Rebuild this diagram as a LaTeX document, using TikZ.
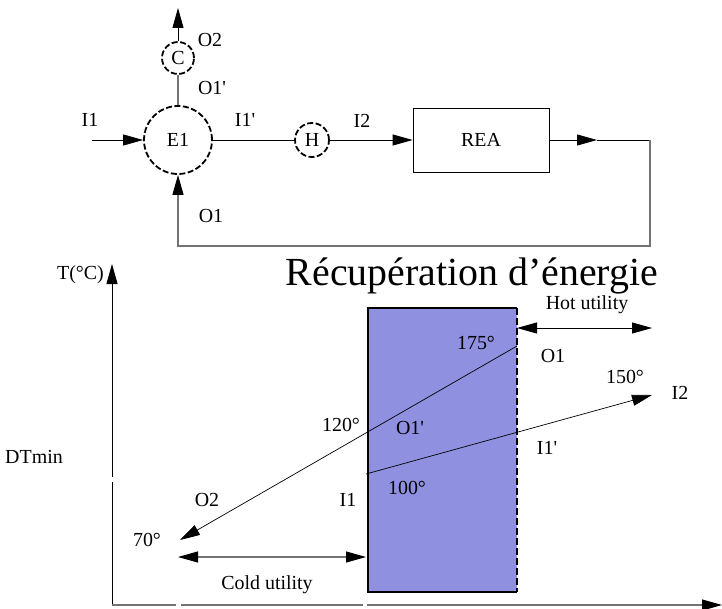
\documentclass[tikz,border=0pt]{standalone}
\usepackage{fontspec}
\setmainfont{Liberation Serif}
\usetikzlibrary{arrows.meta}
\definecolor{pinchfill}{RGB}{143,144,224}

\begin{document}
\begin{tikzpicture}[x=1bp, y=-1bp, >={Triangle[length=20bp,width=11bp]},
    font=\fontsize{20}{24}\selectfont]
  % --- Parametri ---
  \def\pr{\textquotesingle}
  \def\xL{368}
  \def\xR{517}

  % --- Stili ---
  \tikzset{
    unit_op/.style={circle, draw=black, line width=1.8bp, dash pattern=on 6bp off 2.5bp, inner sep=0pt},
    reactor/.style={draw=black, line width=0.8bp, minimum width=136bp, minimum height=64bp},
    stream/.style={draw=black, line width=0.8bp},
    grey_stream/.style={draw=black!55, line width=1.1bp},
    black_tip/.style={-{Triangle[length=20bp,width=11bp,color=black]}},
    black_tips/.style={{Triangle[length=20bp,width=11bp,color=black]}-{Triangle[length=20bp,width=11bp,color=black]}},
    lbl/.style={inner sep=0pt},
  }
  \useasboundingbox (0,0) rectangle (722,609);

  % --- Schema di processo ---
  \node[unit_op, minimum size=68bp] (E1) at (178,140) {E1};
  \node[unit_op, minimum size=32bp] (C) at (178,58) {C};
  \node[unit_op, minimum size=34bp] (H) at (312,140) {H};
  \node[reactor] (REA) at (481,140) {REA};
  \coordinate (prod) at (178,8);
  \coordinate (feed) at (92,140);
  \coordinate (reaMid) at (597,140);
  \coordinate (loopNE) at (650,140);
  \coordinate (loopSE) at (650,246);
  \coordinate (loopSW) at (178,246);

  \draw[stream, ->] (feed) -- (E1);
  \draw[grey_stream] (E1) -- (C);
  \draw[stream, ->] (C) -- (prod);
  \draw[stream] (E1) -- (H);
  \draw[stream, ->] (H) -- (REA);
  \draw[stream, ->] (REA) -- (reaMid);
  \draw[stream] (reaMid) -- (loopNE);
  \draw[grey_stream, black_tip] (loopNE) -- (loopSE) -- (loopSW) -- (E1);

  \node[lbl] (lO2) at (210,40) {O2};
  \node[lbl] (lO1p) at (212,88) {O1\pr};
  \node[lbl] (lI1) at (90,120) {I1};
  \node[lbl] (lI1p) at (245,120) {I1\pr};
  \node[lbl] (lI2) at (362,121) {I2};
  \node[lbl] (lO1) at (211,216) {O1};

  % --- Diagramma T ---
  \node[lbl, font=\fontsize{40}{48}\selectfont, anchor=base] (title) at (472,285) {Récupération d’énergie};

  \coordinate (origin) at (112,605);
  \coordinate (yTop) at (112,264);
  \coordinate (xEnd) at (722,605);
  \draw[stream] (origin) -- (112,482);
  \draw[stream, ->] (112,477) -- (yTop);
  \draw[grey_stream] (origin) -- (176,605);
  \draw[grey_stream] (181,605) -- (363,605);
  \draw[grey_stream, black_tip] (367,605) -- (xEnd);
  \node[lbl, anchor=east] (lT) at (104,275) {T(°C)};
  \node[lbl] (lDT) at (34,457) {DTmin};

  % pinch rectangle
  \fill[pinchfill] (\xL,308) rectangle (\xR,592);
  \draw[line width=2.5bp] (\xR,592) -- (\xL,592) -- (\xL,308) -- (\xR,308);
  \draw[line width=2.5bp, dash pattern=on 7bp off 3bp] (\xR,308) -- (\xR,592);

  % utilities
  \coordinate (hotL) at (\xR,328);
  \coordinate (hotR) at (652,328);
  \draw[stream, <->] (hotL) -- (hotR);
  \node[lbl] (lHot) at (587,305) {Hot utility};
  \coordinate (coldL) at (178,557);
  \coordinate (coldR) at (366,557);
  \draw[grey_stream, black_tips] (coldL) -- (coldR);
  \node[lbl] (lCold) at (267,585) {Cold utility};

  % composite lines
  \coordinate (hotIn) at (\xR,346);
  \coordinate (hotOut) at (180,540);
  \coordinate (coldIn) at (366,474);
  \coordinate (coldOut) at (652,395);
  \draw[stream, line width=0.7bp, ->] (hotIn) -- (hotOut);
  \draw[stream, line width=0.7bp, ->] (coldIn) -- (coldOut);

  \node[lbl] (t175) at (476,343) {175°};
  \node[lbl] (gO1) at (553,356) {O1};
  \node[lbl] (t150) at (625,377) {150°};
  \node[lbl] (gI2) at (680,393) {I2};
  \node[lbl] (gO1p) at (410,428) {O1\pr};
  \node[lbl] (t120) at (341,425) {120°};
  \node[lbl] (gI1p) at (547,448) {I1\pr};
  \node[lbl] (t100) at (407,488) {100°};
  \node[lbl] (gI1) at (348,500) {I1};
  \node[lbl] (gO2) at (207,500) {O2};
  \node[lbl] (t70) at (147,540) {70°};
\end{tikzpicture}
\end{document}
